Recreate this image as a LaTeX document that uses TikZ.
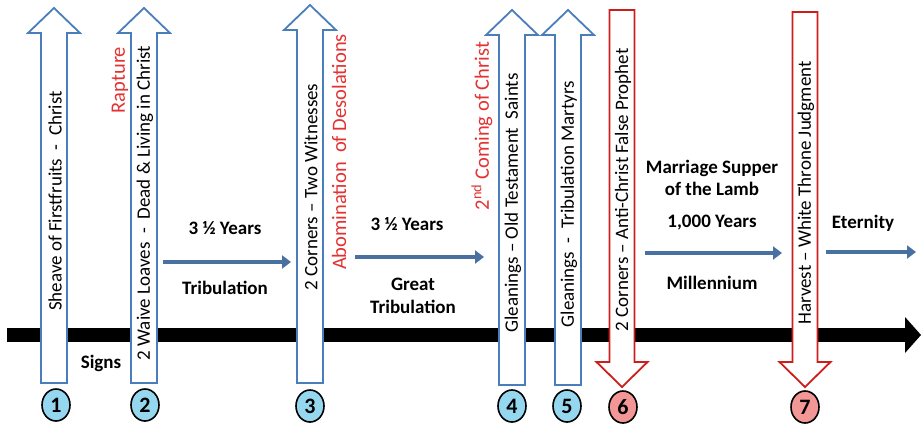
\documentclass[tikz,border=0pt]{standalone}
\usepackage{fontspec}
\setmainfont{Carlito}
\usetikzlibrary{arrows.meta,shapes.geometric}
\definecolor{bluel}{RGB}{74,126,187}
\definecolor{redl}{RGB}{205,30,30}
\definecolor{redt}{RGB}{228,50,50}
\definecolor{harr}{RGB}{72,112,160}
\definecolor{cblue}{RGB}{150,215,240}
\definecolor{cred}{RGB}{242,150,150}
\newcommand\UpArr[5]{% name, cx, tip, base, bottom
  \draw[uparr] (#2-13,#5) -- (#2-13,#4) -- (#2-26,#4) -- (#2,#3) -- (#2+26,#4) -- (#2+13,#4) -- (#2+13,#5) -- cycle;
  \coordinate (#1) at (#2,#5);}
\newcommand\DnArr[5]{% name, cx, top, base, tip
  \draw[dnarr] (#2-12.5,#3) -- (#2-12.5,#4) -- (#2-25.5,#4) -- (#2,#5) -- (#2+25.5,#4) -- (#2+12.5,#4) -- (#2+12.5,#3) -- cycle;
  \coordinate (#1) at (#2,#5);}
\begin{document}
\begin{tikzpicture}[x=1pt,y=-1pt,
  uparr/.style={draw=bluel, line width=1.8pt, fill=white, line join=miter},
  dnarr/.style={draw=redl, line width=1.8pt, fill=white, line join=miter},
  vlab/.style={rotate=90, font=\fontsize{19}{19}\selectfont, inner sep=0pt},
  rlab/.style={rotate=90, font=\fontsize{20.5}{20.5}\selectfont, text=redt, inner sep=0pt},
  hlab/.style={font=\bfseries\fontsize{19}{22.5}\selectfont, align=center, inner sep=0pt},
  numc/.style={ellipse, draw=black, line width=1.6pt, minimum width=28pt, minimum height=32pt, inner sep=0pt, font=\bfseries\fontsize{22}{22}\selectfont},
  bc/.style={numc, fill=cblue},
  rc/.style={numc, fill=cred},
  harrow/.style={draw=harr, line width=4.5pt, -{Triangle[length=9pt,width=13pt]}}
]
\fill[white] (0,0) rectangle (923,432);
\useasboundingbox (0,0) rectangle (923,432);

% timeline
\fill[black] (7,328) rectangle (906,342);
\fill[black] (905,317) -- (921,335) -- (905,353) -- cycle;

% up arrows
\UpArr{a1}{54}{8}{33}{383}
\UpArr{a2}{144}{8}{33}{383}
\UpArr{a3}{310}{5}{30}{383}
\UpArr{a4}{512}{10}{35}{385}
\UpArr{a5}{568}{10}{35}{385}
% down arrows
\DnArr{a6}{622}{10}{362}{387}
\DnArr{a7}{805}{12}{362}{387}

% arrow labels
\node[vlab] (t1) at (55,201) {Sheave of Firstfruits\ \ -\ \ Christ};
\node[vlab] (t2) at (145,203) {2 Waive Loaves\ \ -\ \ Dead \& Living in Christ};
\node[vlab] (t3) at (311,187) {2 Corners – Two Witnesses};
\node[vlab] (t4) at (513,203) {Gleanings – Old Testament\ \ Saints};
\node[vlab] (t5) at (569,204) {Gleanings\ \ -\ \ Tribulation Martyrs};
\node[vlab] (t6) at (623,190) {2 Corners – Anti-Christ False Prophet};
\node[vlab] (t7) at (806,193) {Harvest – White Throne Judgment};

% red labels
\node[rlab] (r1) at (120,80) {Rapture};
\node[rlab] (r2) at (339,152) {Abomination\ \ of Desolations};
\node[rlab] (r3) at (482,126) {2\textsuperscript{nd} Coming of Christ};

% circles
\node[bc] (c1) at (56,405) {1};
\node[bc] (c2) at (145,405) {2};
\node[bc] (c3) at (310,406) {3};
\node[bc] (c4) at (512,406) {4};
\node[bc] (c5) at (567,406) {5};
\node[rc] (c6) at (623,407) {6};
\node[rc] (c7) at (805,407) {7};

% horizontal labels
\node[hlab] (h1) at (225,228) {3 ½ Years};
\node[hlab] (h2) at (225,288) {Tribulation};
\node[hlab] (h3) at (101,363) {Signs};
\node[hlab] (h4) at (407,224) {3 ½ Years};
\node[hlab] (h5) at (413,296) {Great\\Tribulation};
\node[hlab] (h6) at (712,178) {Marriage Supper\\of the Lamb};
\node[hlab] (h7) at (712,223) {1,000 Years};
\node[hlab] (h8) at (712,283) {Millennium};
\node[hlab] (h9) at (863,223) {Eternity};

% horizontal arrows
\coordinate (p1s) at (163,262); \coordinate (p1e) at (291,262);
\coordinate (p2s) at (355,257); \coordinate (p2e) at (484,257);
\coordinate (p3s) at (645,253); \coordinate (p3e) at (782,253);
\coordinate (p4s) at (826,252); \coordinate (p4e) at (916,252);
\draw[harrow] (p1s) -- (p1e);
\draw[harrow] (p2s) -- (p2e);
\draw[harrow] (p3s) -- (p3e);
\draw[harrow] (p4s) -- (p4e);
\end{tikzpicture}
\end{document}
